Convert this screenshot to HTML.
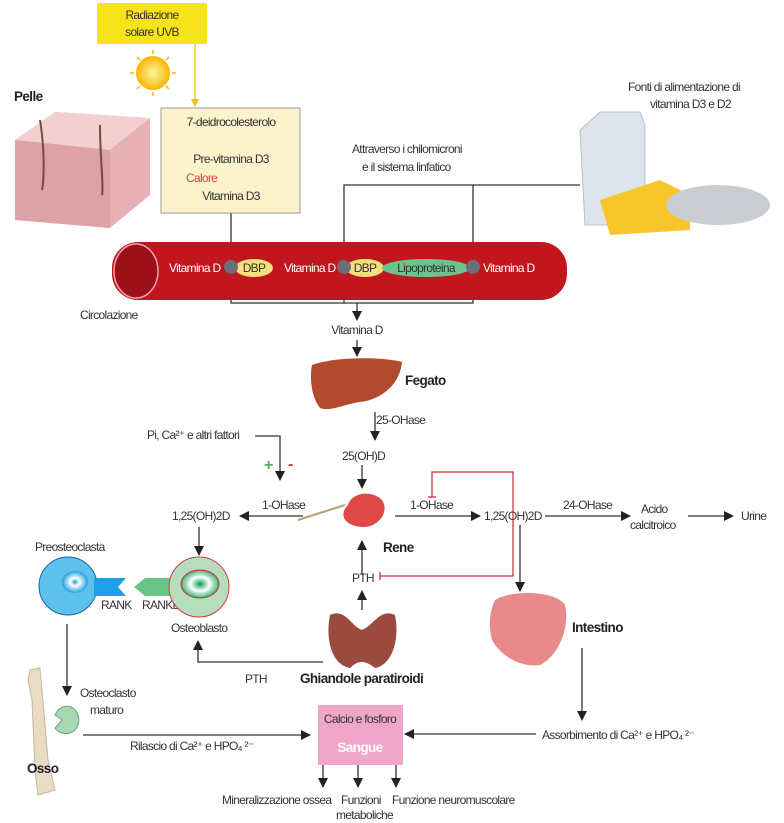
<!DOCTYPE html>
<html><head><meta charset="utf-8"><style>
html,body{margin:0;padding:0;background:#fff}
svg{display:block}
text{font-family:"Liberation Sans Narrow","Liberation Sans",sans-serif;font-size:12px;fill:#333;letter-spacing:-0.7px}
.b{font-weight:bold;font-size:13.5px;fill:#222;letter-spacing:-0.6px}
</style></head><body>
<svg width="784" height="823" viewBox="0 0 784 823" xmlns="http://www.w3.org/2000/svg">
<defs>
<marker id="a" markerWidth="10" markerHeight="10" refX="9" refY="5" orient="auto" markerUnits="userSpaceOnUse"><path d="M0,0 L10,5 L0,10 z" fill="#222"/></marker>
<marker id="y" markerWidth="8" markerHeight="8" refX="7" refY="4" orient="auto" markerUnits="userSpaceOnUse"><path d="M0,0 L8,4 L0,8 z" fill="#f2c200"/></marker>
<radialGradient id="sun"><stop offset="0" stop-color="#fff6a0"/><stop offset="1" stop-color="#f7b500"/></radialGradient>
<radialGradient id="blue"><stop offset="0" stop-color="#1aa0e0"/><stop offset=".35" stop-color="#fff"/><stop offset="1" stop-color="#1aa0e0"/></radialGradient>
<radialGradient id="grn"><stop offset="0" stop-color="#0a9a55"/><stop offset=".5" stop-color="#fff"/><stop offset="1" stop-color="#3cb074"/></radialGradient>
</defs>
<g stroke="#333" stroke-width="1.3" fill="none">
<path d="M195 44 V106" stroke="#f2c200" marker-end="url(#y)"/>
<path d="M231 132 V147" marker-end="url(#a)"/>
<path d="M231 168 V185" marker-end="url(#a)"/>
<path d="M231 213 V258" marker-end="url(#a)"/>
<path d="M580 185 H344 V258" marker-end="url(#a)"/>
<path d="M473 185 V258" marker-end="url(#a)"/>
<path d="M231 278 V303 H473 V278 M344 278 V303"/>
<path d="M357 303 V320" marker-end="url(#a)"/>
<path d="M357 340 V356" marker-end="url(#a)"/>
<path d="M375 412 V440" marker-end="url(#a)"/>
<path d="M362 465 V488" marker-end="url(#a)"/>
<path d="M255 436 H280 V480" marker-end="url(#a)"/>
<path d="M303 516 H240" marker-end="url(#a)"/>
<path d="M395 516 H480" marker-end="url(#a)"/>
<path d="M545 516 H630" marker-end="url(#a)"/>
<path d="M688 516 H733" marker-end="url(#a)"/>
<path d="M520 525 V591" marker-end="url(#a)"/>
<path d="M362 575 V541" marker-end="url(#a)"/>
<path d="M362 610 V591" marker-end="url(#a)"/>
<path d="M199 527 V555" marker-end="url(#a)"/>
<path d="M323 662 H198 V641" marker-end="url(#a)"/>
<path d="M67 624 V695" marker-end="url(#a)"/>
<path d="M83 735 H310" marker-end="url(#a)"/>
<path d="M582 648 V720" marker-end="url(#a)"/>
<path d="M536 734 H405" marker-end="url(#a)"/>
<path d="M323 765 V787" marker-end="url(#a)"/>
<path d="M358 765 V787" marker-end="url(#a)"/>
<path d="M396 765 V787" marker-end="url(#a)"/>
</g>
<g stroke="#c8283c" stroke-width="1.2" fill="none">
<path d="M432 497 V472 H513 V576 H380 M380 572 V580 M428 497 H436"/>
</g>
<rect x="97" y="3" width="110" height="41" fill="#f7e31a"/>
<text x="152" y="19" text-anchor="middle">Radiazione</text>
<text x="152" y="36" text-anchor="middle">solare UVB</text>
<circle cx="153" cy="73" r="17" fill="url(#sun)"/>
<g stroke="#f7b500" stroke-width="1.5"><path d="M153 50V54M153 92V96M130 73H134M172 73H176M137 57l3 3M166 86l3 3M169 57l-3 3M140 86l-3 3"/></g>
<rect x="161" y="108" width="139" height="105" fill="#fcf2cb" stroke="#999"/>
<text x="231" y="126" text-anchor="middle">7-deidrocolesterolo</text>
<text x="231" y="163" text-anchor="middle">Pre-vitamina D3</text>
<text x="186" y="182" style="fill:#e0403a">Calore</text>
<text x="231" y="200" text-anchor="middle">Vitamina D3</text>
<text x="14" y="101" class="b">Pelle</text>
<path d="M15 140 L55 112 L150 118 L150 195 L110 228 L15 220 z" fill="#e6b0b4"/>
<path d="M15 140 L55 112 L150 118 L110 150 z" fill="#f3d0cf"/>
<path d="M15 140 L110 150 L110 228 L15 220z" fill="#dca2a8"/>
<path d="M40 120 C45 150 44 180 42 190 M100 125 C100 160 104 185 102 195" stroke="#7a4a3a" stroke-width="2" fill="none"/>
<text x="628" y="91">Fonti di alimentazione di</text>
<text x="650" y="108">vitamina D3 e D2</text>
<text x="352" y="153">Attraverso i chilomicroni</text>
<text x="362" y="171">e il sistema linfatico</text>
<path d="M580 130 L600 112 L640 112 L645 125 L645 225 L585 225 z" fill="#dde4ec" stroke="#b8c0c8"/>
<path d="M600 200 L660 180 L690 195 L690 230 L610 235 z" fill="#f6c62a"/>
<ellipse cx="718" cy="205" rx="52" ry="20" fill="#c9ccd0"/>
<rect x="112" y="242" width="455" height="58" rx="26" fill="#c2161e"/>
<ellipse cx="136" cy="271" rx="22" ry="27" fill="#9e1018" stroke="#f0a0b0" stroke-width="1.5"/>
<text x="169" y="272" style="fill:#fff">Vitamina D</text>
<text x="284" y="272" style="fill:#fff">Vitamina D</text>
<text x="483" y="272" style="fill:#fff">Vitamina D</text>
<ellipse cx="254" cy="268" rx="19" ry="9" fill="#f3e07a"/><text x="254" y="272" text-anchor="middle">DBP</text>
<ellipse cx="365" cy="268" rx="19" ry="9" fill="#f3e07a"/><text x="365" y="272" text-anchor="middle">DBP</text>
<ellipse cx="426" cy="268" rx="44" ry="9" fill="#6cc48c"/><text x="426" y="272" text-anchor="middle">Lipoproteina</text>
<circle cx="231" cy="267" r="7" fill="#6a7078"/><circle cx="344" cy="267" r="7" fill="#6a7078"/><circle cx="473" cy="267" r="7" fill="#6a7078"/>
<text x="80" y="319">Circolazione</text>
<text x="357" y="334" text-anchor="middle">Vitamina D</text>
<path d="M312 365 C340 355 390 358 402 362 C400 385 380 400 360 402 C345 404 330 412 320 408 C310 395 310 375 312 365z" fill="#b24a30"/>
<text x="405" y="385" class="b">Fegato</text>
<text x="376" y="424">25-OHase</text>
<text x="342" y="460">25(OH)D</text>
<text x="147" y="439">Pi, Ca²⁺ e altri fattori</text>
<text x="264" y="470" style="fill:#4cb060;font-weight:bold;font-size:16px">+</text>
<text x="288" y="469" style="fill:#e0303a;font-weight:bold;font-size:16px">-</text>
<text x="262" y="509">1-OHase</text>
<text x="172" y="520">1,25(OH)2D</text>
<path d="M298 520 L345 505" stroke="#b8a070" stroke-width="2"/>
<path d="M348 505 C352 492 372 490 382 500 C390 512 378 528 362 527 C345 526 338 515 348 505z" fill="#e04848"/>
<text x="383" y="552" class="b">Rene</text>
<text x="410" y="509">1-OHase</text>
<text x="484" y="520">1,25(OH)2D</text>
<text x="563" y="509">24-OHase</text>
<text x="641" y="513">Acido</text>
<text x="630" y="529">calcitroico</text>
<text x="741" y="520">Urine</text>
<text x="352" y="582">PTH</text>
<path d="M495 600 C510 590 555 590 565 605 C570 625 560 655 540 665 C520 668 500 655 492 640 C488 625 490 610 495 600z" fill="#e88a8a"/>
<text x="572" y="632" class="b">Intestino</text>
<path d="M330 615 C345 608 350 625 362 630 C374 625 380 608 395 615 C400 640 392 665 375 668 C365 660 358 660 350 668 C332 665 325 640 330 615z" fill="#9a4a3e"/>
<text x="300" y="683" class="b">Ghiandole paratiroidi</text>
<text x="245" y="683">PTH</text>
<text x="35" y="551">Preosteoclasta</text>
<circle cx="68" cy="586" r="29" fill="#5ec0ee" stroke="#1a6a90"/>
<ellipse cx="75" cy="582" rx="13" ry="11" fill="url(#blue)"/>
<path d="M94 578 H126 L118 587 L126 596 H94z" fill="#1ea0e8"/>
<path d="M134 587 L145 578 H172 V596 H145z" fill="#66c486"/>
<text x="101" y="609">RANK</text>
<text x="142" y="609">RANKL</text>
<circle cx="199" cy="587" r="30" fill="#b6ddbe" stroke="#d83a3a"/>
<ellipse cx="200" cy="584" rx="19" ry="14" fill="url(#grn)" stroke="#c83030"/>
<text x="171" y="632">Osteoblasto</text>
<path d="M30 670 L40 668 L42 690 L48 760 L55 790 L38 795 L35 770 L32 700 L28 680z" fill="#e8dcc4" stroke="#c8b898"/>
<text x="27" y="773" class="b">Osso</text>
<path d="M58 710 C70 700 82 712 78 725 C74 736 60 736 55 728 L62 720 L55 715z" fill="#a8d8b0" stroke="#6aa67a"/>
<text x="80" y="697">Osteoclasto</text>
<text x="90" y="714">maturo</text>
<text x="130" y="750">Rilascio di Ca²⁺ e HPO₄ ²⁻</text>
<rect x="318" y="705" width="85" height="60" fill="#f0a6c8"/>
<text x="360" y="723" text-anchor="middle">Calcio e fosforo</text>
<text x="360" y="752" text-anchor="middle" class="b" style="fill:#fff">Sangue</text>
<text x="542" y="739">Assorbimento di Ca²⁺ e HPO₄ ²⁻</text>
<text x="222" y="804">Mineralizzazione ossea</text>
<text x="341" y="804">Funzioni</text>
<text x="336" y="819">metaboliche</text>
<text x="392" y="804">Funzione neuromuscolare</text>
</svg>
</body></html>
